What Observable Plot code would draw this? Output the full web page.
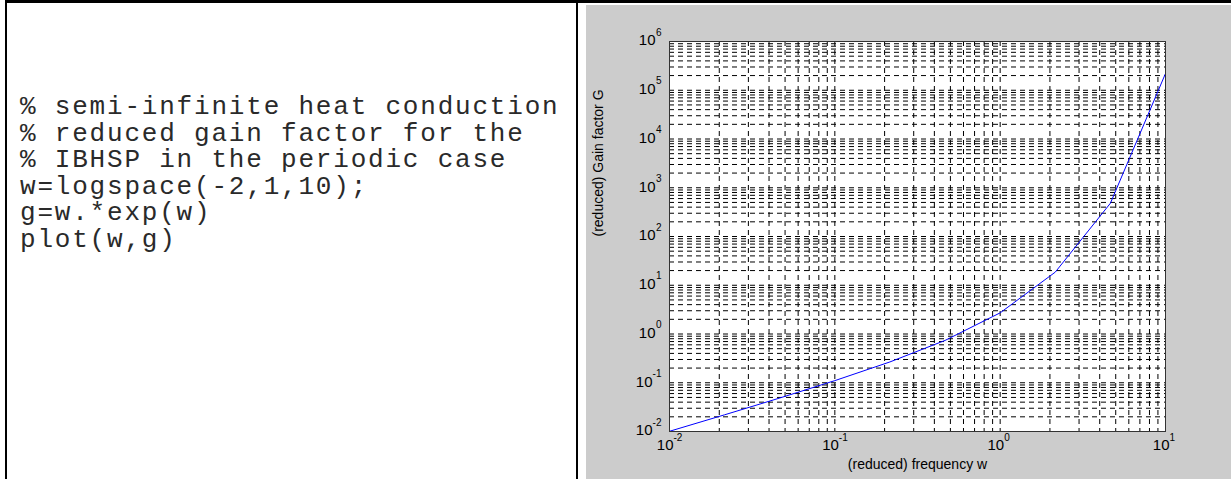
<!DOCTYPE html>
<html>
<head>
<meta charset="utf-8">
<script src="https://cdn.jsdelivr.net/npm/d3@7"></script>
<script src="https://cdn.jsdelivr.net/npm/@observablehq/plot@0.6"></script>
<style>
  html, body { margin: 0; padding: 0; background: #fff; }
  body { width: 1231px; height: 479px; overflow: hidden; position: relative; }
  .bar { position: absolute; background: #000; }
  #code { position: absolute; left: 20px; top: 94px; margin: 0; font-family: "Liberation Mono", "Courier New", monospace;
          font-size: 26px; letter-spacing: 1.8px; line-height: 26.5px; color: #2a2a2a; white-space: pre; }
  #chart { position: absolute; left: 586px; top: 5px; width: 645px; height: 474px; background: #cccccc; }
  #chart svg { display: block; }
</style>
</head>
<body>
<div class="bar" style="left:5px;top:0;width:1226px;height:3px"></div>
<div class="bar" style="left:5px;top:0;width:2px;height:479px"></div>
<div class="bar" style="left:576px;top:0;width:2px;height:479px"></div>
<pre id="code"></pre>
<div id="chart"></div>
<script>
// Code listing shown in the left cell
const codeLines = [
  "% semi-infinite heat conduction",
  "% reduced gain factor for the",
  "% IBHSP in the periodic case",
  "w=logspace(-2,1,10);",
  "g=w.*exp(w)",
  "plot(w,g)"
];

// Series: reduced frequency w and gain factor G
const w = [0.01, 0.02154, 0.04642, 0.1, 0.2154, 0.4642, 1, 2.154, 4.642, 10];
const g = [0.0101, 0.02201, 0.04862, 0.1105, 0.2672, 0.7383, 2.718, 18.58, 481.4, 220265];

// Tick labels
const xTicks = [0.01, 0.1, 1, 10];
const xTickExp = ["-2", "-1", "0", "1"];
const yTicks = [1e-2, 1e-1, 1e0, 1e1, 1e2, 1e3, 1e4, 1e5, 1e6];
const yTickExp = ["-2", "-1", "0", "1", "2", "3", "4", "5", "6"];

const xLabel = "(reduced) frequency w";
const yLabel = "(reduced) Gain factor G";

document.getElementById("code").textContent = codeLines.join("\n");

const data = w.map((v, i) => ({w: v, g: g[i]}));
const xDomain = [0.01, 10];
const yDomain = [1e-2, 1e6];
const xGrid = d3.scaleLog().domain(xDomain).ticks();
const yGrid = d3.scaleLog().domain(yDomain).ticks();

const yIdx = yTicks.map((d, i) => i);
const gridStyle = {stroke: "#000", strokeWidth: 1, strokeDasharray: "5,4"};

const chart = Plot.plot({
  width: 645,
  height: 474,
  marginLeft: 83,
  marginRight: 66,
  marginTop: 36,
  marginBottom: 48,
  style: {fontFamily: "'Liberation Sans', Arial, sans-serif", fontSize: "15px", background: "#cccccc", color: "#000"},
  x: {type: "log", domain: xDomain, axis: null},
  y: {type: "log", domain: yDomain, axis: null},
  marks: [
    Plot.frame({fill: "#fff", stroke: null}),
    Plot.ruleX(xGrid, gridStyle),
    Plot.ruleY(yGrid, gridStyle),
    Plot.line(data, {x: "w", y: "g", stroke: "#0000ff", strokeWidth: 1}),
    Plot.frame({stroke: "#333", strokeWidth: 1}),
    // x tick labels: "10" + superscript exponent
    Plot.text(xTicks, {x: d => d, frameAnchor: "bottom", text: () => "10", textAnchor: "end", dx: 4, dy: 18, fontSize: 15, fill: "#000"}),
    Plot.text(xTicks, {x: d => d, frameAnchor: "bottom", text: (d, i) => xTickExp[i], textAnchor: "start", dx: 4, dy: 9, fontSize: 10, fill: "#000"}),
    // y tick labels: right aligned as a whole
    Plot.text(yIdx, {filter: i => yTickExp[i].startsWith("-"), y: i => yTicks[i], frameAnchor: "left", text: () => "10", textAnchor: "end", dx: -17, dy: -1, fontSize: 15, fill: "#000"}),
    Plot.text(yIdx, {filter: i => !yTickExp[i].startsWith("-"), y: i => yTicks[i], frameAnchor: "left", text: () => "10", textAnchor: "end", dx: -14, dy: -1, fontSize: 15, fill: "#000"}),
    Plot.text(yIdx, {y: i => yTicks[i], frameAnchor: "left", text: i => yTickExp[i], textAnchor: "end", dx: -8, dy: -9, fontSize: 10, fill: "#000"}),
    // axis titles
    Plot.text([xLabel], {frameAnchor: "bottom", text: d => d, dy: 37, fontSize: 14, fill: "#000"}),
    Plot.text([yLabel], {frameAnchor: "left", text: d => d, rotate: -90, dx: -71, fontSize: 14, fill: "#000"})
  ]
});
document.getElementById("chart").appendChild(chart);
</script>
</body>
</html>
